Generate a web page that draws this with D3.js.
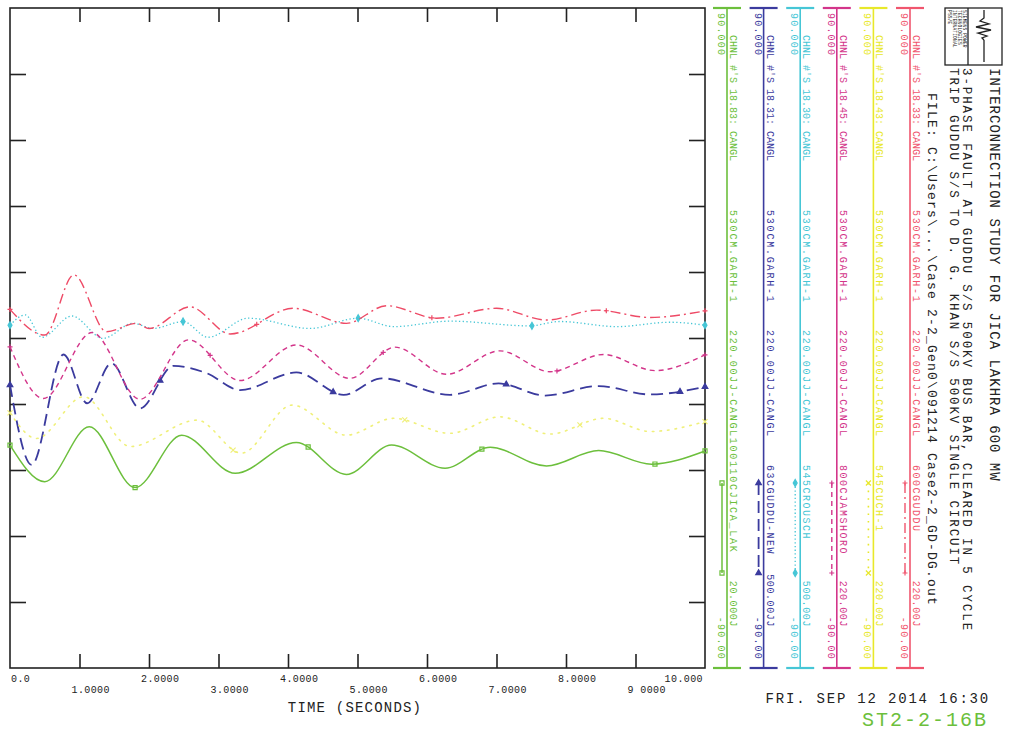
<!DOCTYPE html>
<html>
<head>
<meta charset="utf-8">
<script src="https://cdn.jsdelivr.net/npm/d3@7"></script>
<style>
  body { margin: 0; background: #fff; }
  text { font-family: "Liberation Mono", "DejaVu Sans Mono", monospace; }
</style>
</head>
<body>
<div id="chart"></div>
<script>
const W = 1012, H = 738;

// ---- values: time (s) / relative angle (deg) ----
const tGreen = [0, 0.5, 1.14, 1.8, 2.47, 3.24, 4.12, 4.84, 5.49, 6.26, 6.91, 7.72, 8.47, 9.23, 10];
const vGreen = [-29.2, -39.2, -24.2, -40.8, -26.5, -36.9, -28.5, -37.2, -29.2, -35.5, -29.8, -34.9, -30.7, -34.4, -30.8];

const tBlue = [0, 0.31, 0.77, 1.11, 1.46, 1.87, 2.35, 2.83, 3.31, 4.12, 4.8, 5.35, 6.33, 7.03, 7.7, 8.47, 9.21, 10];
const vBlue = [-12.8, -34.6, -4.5, -17.8, -6.9, -19.2, -7.6, -9.6, -14.2, -9.4, -15.5, -11, -15.5, -12.4, -15.7, -13.1, -15.4, -13.3];

const tCyan = [0, 0.22, 0.46, 0.89, 1.34, 1.77, 2.06, 2.49, 2.85, 3.43, 4.32, 5.01, 5.52, 6.33, 7.48, 7.91, 8.73, 9.5, 10];
const vCyan = [3.5, 6.3, 0.2, 6, -0.1, 4, 2.6, 4.5, 0.2, 5.4, 2.6, 5.4, 3.1, 4.6, 3.3, 4.5, 3.1, 4.3, 3.5];

const tMagenta = [0, 0.48, 1.18, 1.87, 2.57, 3.31, 4.12, 4.89, 5.54, 6.28, 7.05, 7.77, 8.54, 9.28, 10];
const vMagenta = [-2.4, -16.5, 1.5, -16.7, -0.5, -11.6, -1.9, -11, -2.5, -9.9, -3.5, -9.2, -4.5, -8.9, -4.6];

const tYellow = [0, 0.38, 1.06, 1.73, 2.69, 3.33, 4.06, 4.84, 5.52, 6.33, 7.05, 7.77, 8.54, 9.21, 10];
const vYellow = [-20.4, -27.4, -16, -29.6, -22.4, -31.4, -18.3, -26.5, -21.9, -26, -21.5, -26.2, -21.9, -25.5, -22.8];

const tRed = [0, 0.5, 0.92, 1.39, 1.82, 2.0, 2.59, 3.17, 4.08, 4.84, 5.42, 6.14, 7.0, 7.72, 8.44, 9.21, 10];
const vRed = [7.8, 0.8, 17.2, 1.7, 4, 2.6, 8.5, 1.1, 8.1, 4, 8.8, 5.4, 8.1, 4.9, 7.6, 5.6, 7.4];

// marker times along each trace
const markGreen = [0, 1.8, 4.29, 6.79, 9.28, 10];
const markBlue = [0, 2.16, 4.65, 7.14, 9.64, 10];
const markCyan = [0, 2.49, 5.01, 7.51, 10];
const markMagenta = [0, 2.88, 5.37, 7.87, 10];
const markYellow = [0, 3.21, 5.68, 8.2, 10];
const markRed = [0, 3.55, 6.07, 8.58, 10];

// legend text, left to right
const chnlLabels = ["CHNL #'S 18.83: CANGL", "CHNL #'S 18.31: CANGL", "CHNL #'S 18.30: CANGL",
                    "CHNL #'S 18.45: CANGL", "CHNL #'S 18.43: CANGL", "CHNL #'S 18.33: CANGL"];
const fromLabels = ["530CM.GARH-1", "530CM.GARH-1", "530CM.GARH-1", "530CM.GARH-1", "530CM.GARH-1", "530CM.GARH-1"];
const toLabels = ["220.00JJ-CANGL100110CJICA_LAK", "220.00JJ-CANGL", "220.00JJ-CANGL",
                  "220.00JJ-CANGL", "220.00JJ-CANGL", "220.00JJ-CANGL"];
const busLabels = ["", "63CGUDDU-NEW", "545CROUSCH", "800CJAMSHORO", "545CUCH-1", "600CGUDDU"];
const kvLabels = ["20.000J", "500.00JJ", "500.00J", "220.00J", "220.00J", "220.00J"];
const maxLabels = ["90.000", "90.000", "90.000", "90.000", "90.000", "90.000"];
const minLabels = ["-90.00", "-90.00", "-90.00", "-90.00", "-90.00", "-90.00"];

// axes
const xTickValues = [0, 1, 2, 3, 4, 5, 6, 7, 8, 9, 10];
const xTickLabels = ["0.0", "1.0000", "2.0000", "3.0000", "4.0000", "5.0000", "6.0000", "7.0000", "8.0000", "9 0000", "10.000"];
const yTickValues = [-72, -54, -36, -18, 0, 18, 36, 54, 72];

const titleLines = [
  "INTERCONNECTION STUDY FOR JICA LAKHRA 600 MW",
  "3-PHASE FAULT AT GUDDU S/S 500KV BUS BAR, CLEARED IN 5 CYCLE",
  "TRIP GUDDU S/S TO D. G. KHAN S/S 500KV SINGLE CIRCUIT",
  "FILE: C:\\Users\\...\\Case 2-2_Gen0\\091214 Case2-2_GD-DG.out"
];
const dateLabel = "FRI. SEP 12 2014  16:30";
const plotId = "ST2-2-16B";

// ---- styling ----
const series = [
  {t: tGreen, v: vGreen, marks: markGreen, color: "#6cbf3c", stroke: "#6cbf3c", dash: null, width: 1.5, sym: "square"},
  {t: tBlue, v: vBlue, marks: markBlue, color: "#3b3b9e", stroke: "#3b3b9e", dash: "12,6", width: 1.8, sym: "triangle"},
  {t: tCyan, v: vCyan, marks: markCyan, color: "#46c6d6", stroke: "#46c6d6", dash: "1.3,2.4", width: 1.3, sym: "diamond"},
  {t: tMagenta, v: vMagenta, marks: markMagenta, color: "#d3358a", stroke: "#d3358a", dash: "5,4", width: 1.4, sym: "plus"},
  {t: tYellow, v: vYellow, marks: markYellow, color: "#e8e82a", stroke: "#f0f07a", dash: "1.6,6", width: 1.6, sym: "x"},
  {t: tRed, v: vRed, marks: markRed, color: "#f0566e", stroke: "#ee4a66", dash: "10,4,2,4", width: 1.4, sym: "plus"}
];

const m = {top: 8, right: 307, bottom: 70, left: 10};

const x = d3.scaleLinear().domain([0, 10]).range([m.left, W - m.right]);
const y = d3.scaleLinear().domain([-90, 90]).range([H - m.bottom, m.top]);

const svg = d3.select("#chart").append("svg")
  .attr("width", W)
  .attr("height", H);

// frame + inward ticks
svg.append("rect")
  .attr("x", x(0)).attr("y", y(90))
  .attr("width", x(10) - x(0)).attr("height", y(-90) - y(90))
  .attr("fill", "none").attr("stroke", "#222").attr("stroke-width", 1.6);

const inner = xTickValues.slice(1, -1);
const tickStyle = g => g
  .call(g => g.select(".domain").remove())
  .call(g => g.selectAll(".tick line").attr("stroke", "#222").attr("stroke-width", 1.6));

svg.append("g").attr("transform", `translate(0,${y(-90)})`)
  .call(d3.axisBottom(x).tickValues(inner).tickSize(-14).tickFormat(""))
  .call(tickStyle);
svg.append("g").attr("transform", `translate(0,${y(90)})`)
  .call(d3.axisTop(x).tickValues(inner).tickSize(-14).tickFormat(""))
  .call(tickStyle);
svg.append("g").attr("transform", `translate(${x(0)},0)`)
  .call(d3.axisLeft(y).tickValues(yTickValues).tickSize(-16).tickFormat(""))
  .call(tickStyle);
svg.append("g").attr("transform", `translate(${x(10)},0)`)
  .call(d3.axisRight(y).tickValues(yTickValues).tickSize(-16).tickFormat(""))
  .call(tickStyle);

// x tick labels, staggered in two rows like the plotter output
svg.append("g").selectAll("text")
  .data(xTickValues)
  .join("text")
    .attr("x", (d, i) => i === 0 ? x(d) + 1 : i === 10 ? x(d) - 2 : x(d) - 8)
    .attr("y", (d, i) => i % 2 ? 693 : 682)
    .attr("text-anchor", (d, i) => i === 10 ? "end" : "start")
    .attr("font-size", 10)
    .attr("letter-spacing", 0.4)
    .attr("fill", "#222")
    .text((d, i) => xTickLabels[i]);

svg.append("text")
  .attr("x", 355).attr("y", 712)
  .attr("text-anchor", "middle")
  .attr("font-size", 14).attr("letter-spacing", 1.2)
  .attr("fill", "#222")
  .text("TIME (SECONDS)");

// traces
const line = d3.line()
  .curve(d3.curveMonotoneX)
  .x(d => x(d[0]))
  .y(d => y(d[1]));

function symbolPath(sym, size) {
  const s = size / 2;
  if (sym === "plus") return `M${-s},0H${s}M0,${-s}V${s}`;
  if (sym === "x") return `M${-s},${-s}L${s},${s}M${-s},${s}L${s},${-s}`;
  const type = {square: d3.symbolSquare, triangle: d3.symbolTriangle, diamond: d3.symbolDiamond}[sym];
  return d3.symbol(type, size * size * 0.55)();
}

function drawMarker(g, sym, color, px, py) {
  const filled = sym === "triangle" || sym === "diamond";
  g.append("path")
    .attr("transform", `translate(${px},${py})`)
    .attr("d", symbolPath(sym, sym === "square" ? 5.5 : 5))
    .attr("fill", filled ? color : "none")
    .attr("stroke", color)
    .attr("stroke-width", 1.2);
}

function pointAtX(node, px) {
  let lo = 0, hi = node.getTotalLength();
  for (let k = 0; k < 28; k++) {
    const mid = (lo + hi) / 2;
    if (node.getPointAtLength(mid).x < px) lo = mid; else hi = mid;
  }
  return node.getPointAtLength((lo + hi) / 2);
}

const traces = svg.append("g");
series.forEach(s => {
  const pts = s.t.map((t, i) => [t, s.v[i]]);
  const p = traces.append("path")
    .datum(pts)
    .attr("fill", "none")
    .attr("stroke", s.stroke)
    .attr("stroke-width", s.width)
    .attr("stroke-dasharray", s.dash)
    .attr("stroke-linecap", s.sym === "x" ? "round" : "butt")
    .attr("d", line);
  s.marks.forEach(t => {
    const pt = pointAtX(p.node(), x(t));
    drawMarker(traces, s.sym, s.stroke, x(t), pt.y);
  });
});

// ---- legend columns (text runs top to bottom) ----
const vtext = (g, px, py, str, opt = {}) => g.append("text")
  .attr("transform", `translate(${px},${py}) rotate(90)`)
  .attr("text-anchor", opt.anchor || "start")
  .attr("font-size", opt.size || 10)
  .attr("letter-spacing", opt.ls == null ? 1.2 : opt.ls)
  .attr("fill", opt.color || "#222")
  .text(str);

const colX = d3.scaleLinear().domain([0, 5]).range([727, 910]);
const leg = svg.append("g");
series.forEach((s, i) => {
  const cx = colX(i);
  leg.append("line").attr("x1", cx).attr("x2", cx).attr("y1", y(90)).attr("y2", y(-90))
    .attr("stroke", s.color).attr("stroke-width", 1.6);
  [y(90), y(-90)].forEach(yy => leg.append("line")
    .attr("x1", cx - 14).attr("x2", cx + 14).attr("y1", yy).attr("y2", yy)
    .attr("stroke", s.color).attr("stroke-width", 2.2));

  const r1 = cx - 9, r2 = cx + 3;
  vtext(leg, r1, 13, maxLabels[i], {color: s.color});
  vtext(leg, r1, 660, minLabels[i], {color: s.color, anchor: "end"});
  vtext(leg, r2, 35, chnlLabels[i], {color: s.color, ls: 0});
  vtext(leg, r2, 210, fromLabels[i], {color: s.color, ls: 1.8});
  vtext(leg, r2, 330, toLabels[i], {color: s.color, ls: 1.7});
  if (busLabels[i]) vtext(leg, r2, 465, busLabels[i], {color: s.color, ls: 1.5});
  vtext(leg, r2, 627, kvLabels[i], {color: s.color, anchor: "end", ls: 0.6});

  // line sample
  const sx = cx - 5;
  leg.append("line").attr("x1", sx).attr("x2", sx).attr("y1", 483).attr("y2", 573)
    .attr("stroke", s.color).attr("stroke-width", s.width)
    .attr("stroke-dasharray", s.dash);
  drawMarker(leg, s.sym, s.color, sx, 483);
  drawMarker(leg, s.sym, s.color, sx, 573);
});

// ---- header block ----
const hdr = svg.append("g");
vtext(hdr, 990, 68, titleLines[0], {size: 14, ls: 1.0});
vtext(hdr, 963, 68, titleLines[1], {size: 12.5, ls: 1.9});
vtext(hdr, 950, 68, titleLines[2], {size: 12.5, ls: 1.9});
vtext(hdr, 928, 93, titleLines[3], {size: 13, ls: 1.2});

// logo box
const logo = svg.append("g").attr("fill", "none").attr("stroke", "#222").attr("stroke-width", 1.3);
logo.append("rect").attr("x", 945).attr("y", 8).attr("width", 57).attr("height", 57);
logo.append("line").attr("x1", 968).attr("x2", 968).attr("y1", 8).attr("y2", 65);
logo.append("line").attr("x1", 984).attr("x2", 984).attr("y1", 40).attr("y2", 62);
logo.append("path").attr("d", "M984,10V18L980,21L989,24L976,27L991,30L978,33L987,36L982,38L984,40");
["SIEMENS POWER", "TECHNOLOGIES", "INTERNATIONAL", "PSS/E"].forEach((s, i) =>
  vtext(hdr, 963 - i * 5, 10, s, {size: 4.5, ls: 0.2}));

svg.append("text")
  .attr("x", 990).attr("y", 703)
  .attr("text-anchor", "end")
  .attr("font-size", 14).attr("letter-spacing", 1.8)
  .attr("fill", "#222")
  .text(dateLabel);

svg.append("text")
  .attr("x", 988).attr("y", 726)
  .attr("text-anchor", "end")
  .attr("font-size", 20).attr("letter-spacing", 2)
  .attr("fill", "#6cbf3c")
  .text(plotId);
</script>
</body>
</html>
